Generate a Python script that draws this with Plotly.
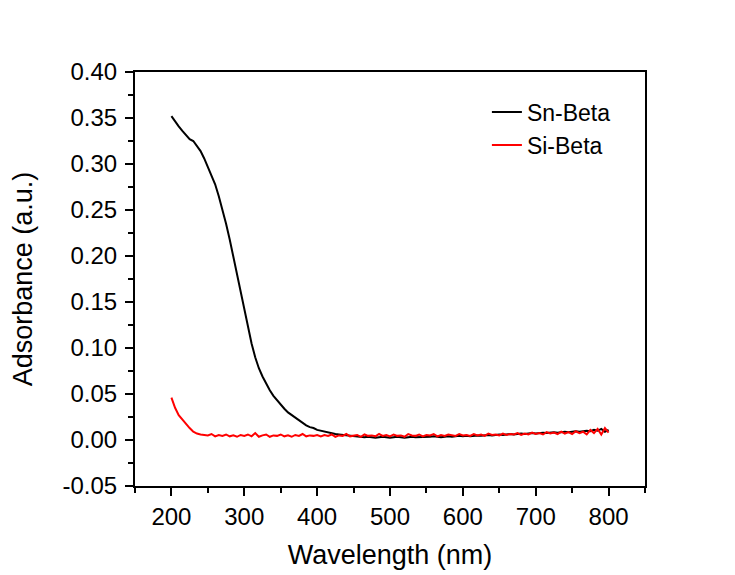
import plotly.graph_objects as go

wavelength = list(range(200, 801, 5))

sn_beta = [
    0.352, 0.346, 0.341, 0.336, 0.331, 0.327, 0.325, 0.320, 0.314, 0.306,
    0.297, 0.288, 0.278, 0.265, 0.251, 0.235, 0.218, 0.199, 0.179, 0.159,
    0.141, 0.123, 0.105, 0.090, 0.078, 0.069, 0.061, 0.054, 0.048, 0.043,
    0.038, 0.034, 0.030, 0.027, 0.024, 0.021, 0.018, 0.016, 0.014, 0.013,
    0.011, 0.010, 0.009, 0.008, 0.007, 0.0065, 0.006, 0.0055, 0.005, 0.0045,
    0.004,
    0.004, 0.0035, 0.003, 0.0035, 0.003, 0.0025, 0.003, 0.0035, 0.003, 0.0025,
    0.003, 0.0035, 0.003, 0.0025, 0.003, 0.0035, 0.003, 0.003, 0.0035, 0.0030,
    0.0035, 0.004, 0.0035, 0.003, 0.0035, 0.004, 0.0035, 0.004, 0.0045, 0.004,
    0.0045, 0.004, 0.0045, 0.005, 0.0045, 0.005, 0.0055, 0.005, 0.0055, 0.006,
    0.0055, 0.006, 0.0065, 0.006, 0.0065, 0.007, 0.0065, 0.007, 0.0075, 0.007,
    0.0075, 0.008, 0.0075, 0.008, 0.0085, 0.008, 0.0085, 0.009, 0.0085, 0.009,
    0.0095, 0.009, 0.0095, 0.010, 0.0095, 0.011, 0.010, 0.012, 0.009, 0.011,
]

si_beta = [
    0.046, 0.035, 0.027, 0.022, 0.017, 0.013, 0.009, 0.007, 0.006, 0.0055,
    0.005, 0.0065, 0.004, 0.0055, 0.0045, 0.006, 0.004, 0.005, 0.0035, 0.0055,
    0.0045, 0.006, 0.004, 0.0075, 0.0035, 0.005, 0.006, 0.0035, 0.005, 0.0045,
    0.006, 0.004, 0.005, 0.0035, 0.0055, 0.0045, 0.0065, 0.004, 0.005, 0.0045,
    0.0055,
    0.004, 0.0055, 0.0045, 0.006, 0.0035, 0.005, 0.0045, 0.0065, 0.004, 0.005,
    0.0055, 0.0035, 0.006, 0.0045, 0.005, 0.004, 0.0065, 0.0045, 0.0055, 0.004,
    0.006, 0.0045, 0.005, 0.0035, 0.0065, 0.005, 0.0045, 0.006, 0.004, 0.0055,
    0.005, 0.0065, 0.004, 0.0055, 0.0045, 0.006, 0.005, 0.0045, 0.0065, 0.005,
    0.0055, 0.0045, 0.0065, 0.005, 0.006, 0.0045, 0.007, 0.0055, 0.006, 0.005,
    0.007, 0.0055, 0.0065, 0.006, 0.0075, 0.0055, 0.007, 0.006, 0.008, 0.0065,
    0.0075, 0.006, 0.0085, 0.007, 0.008, 0.0065, 0.009, 0.007, 0.0085, 0.0065,
    0.0095, 0.0075, 0.009, 0.006, 0.011, 0.0075, 0.012, 0.006, 0.013, 0.008,
]

y_tick_values = [-0.05, 0.00, 0.05, 0.10, 0.15, 0.20, 0.25, 0.30, 0.35, 0.40]
y_tick_labels = ["-0.05", "0.00", "0.05", "0.10", "0.15", "0.20", "0.25", "0.30", "0.35", "0.40"]

FONT = "Arial, Liberation Sans, sans-serif"

fig = go.Figure()
fig.add_trace(go.Scatter(x=wavelength, y=sn_beta, mode="lines", name="Sn-Beta",
                         line=dict(color="#000000", width=2)))
fig.add_trace(go.Scatter(x=wavelength, y=si_beta, mode="lines", name="Si-Beta",
                         line=dict(color="#ff0000", width=2)))

axis_common = dict(
    showgrid=False, zeroline=False, showline=True, linecolor="black", linewidth=2,
    mirror=True, ticks="outside", ticklen=8, tickwidth=2, tickcolor="black",
    tickfont=dict(family=FONT, size=24, color="black"),
)

fig.update_xaxes(
    range=[150, 850], tick0=0, dtick=100,
    minor=dict(ticks="outside", dtick=50, tick0=0, ticklen=5, tickwidth=2, tickcolor="black"),
    title=dict(text="Wavelength (nm)", font=dict(family=FONT, size=27, color="black"), standoff=16),
    **axis_common,
)
fig.update_yaxes(
    range=[-0.05, 0.40], tickmode="array", tickvals=y_tick_values, ticktext=y_tick_labels,
    minor=dict(ticks="outside", dtick=0.025, tick0=0, ticklen=5, tickwidth=2, tickcolor="black"),
    title=dict(text="Adsorbance (a.u.)", font=dict(family=FONT, size=27, color="black"), standoff=22),
    ticklabelstandoff=3,
    **axis_common,
)

fig.update_layout(
    width=735, height=575,
    margin=dict(l=127, r=98, t=64, b=97),
    paper_bgcolor="white", plot_bgcolor="white",
    legend=dict(x=0.69, y=0.955, xanchor="left", yanchor="top",
                bgcolor="rgba(0,0,0,0)", font=dict(family=FONT, size=23, color="black"),
                tracegroupgap=0),
)

fig.write_html("out.html")
